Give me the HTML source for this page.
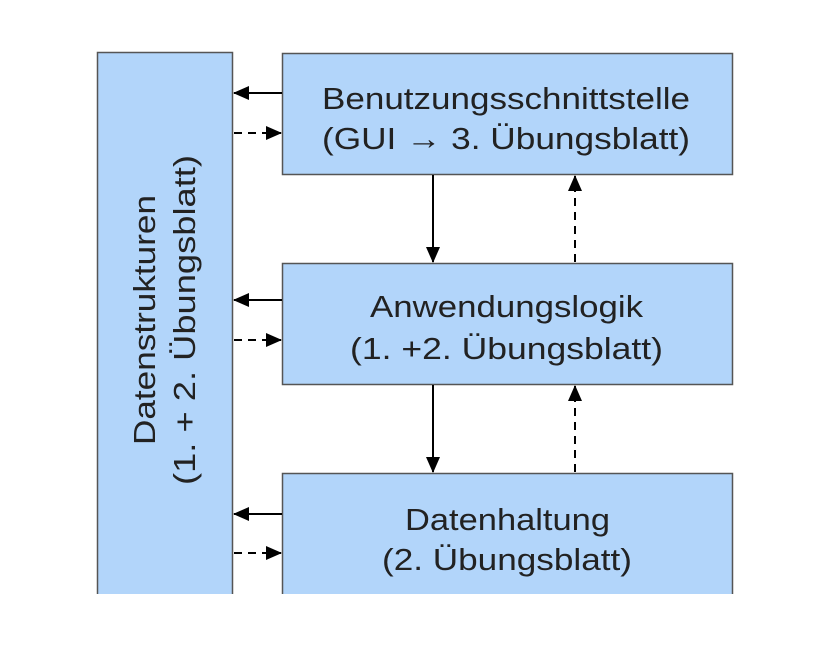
<!DOCTYPE html>
<html><head><style>
body{margin:0;background:#fff;width:822px;height:654px;overflow:hidden}
</style></head><body>
<svg width="822" height="654" xmlns="http://www.w3.org/2000/svg" font-family="Liberation Sans, sans-serif" font-size="31" fill="#222">
<defs>
<marker id="b" markerWidth="16" markerHeight="14" refX="15" refY="7" orient="auto" markerUnits="userSpaceOnUse"><path d="M0,0 L16,7 L0,14 z" fill="#000"/></marker>
</defs>
<g fill="#b2d5fa" stroke="#555" stroke-width="1.5">
<path d="M97.5,594 V52.5 H232.5 V594"/>
<path d="M282.5,594 V473.5 H732.5 V594"/>
<rect x="282.5" y="53.5" width="450" height="121"/>
<rect x="282.5" y="263.5" width="450" height="121"/>
</g>
<g stroke="#000" stroke-width="2" fill="none">
<line x1="282" y1="93" x2="234" y2="93" marker-end="url(#b)"/>
<line x1="282" y1="300" x2="234" y2="300" marker-end="url(#b)"/>
<line x1="282" y1="514" x2="234" y2="514" marker-end="url(#b)"/>
<line x1="234" y1="133" x2="281" y2="133" stroke-dasharray="8,6" marker-end="url(#b)"/>
<line x1="234" y1="340" x2="281" y2="340" stroke-dasharray="8,6" marker-end="url(#b)"/>
<line x1="234" y1="553" x2="281" y2="553" stroke-dasharray="8,6" marker-end="url(#b)"/>
<line x1="433" y1="175" x2="433" y2="262" marker-end="url(#b)"/>
<line x1="433" y1="385" x2="433" y2="472" marker-end="url(#b)"/>
<line x1="575" y1="262" x2="575" y2="176" stroke-dasharray="8,6" marker-end="url(#b)"/>
<line x1="575" y1="472" x2="575" y2="386" stroke-dasharray="8,6" marker-end="url(#b)"/>
</g>
<g>
<text x="322" y="109" textLength="368" lengthAdjust="spacingAndGlyphs">Benutzungsschnittstelle</text>
<text x="322" y="149" textLength="368" lengthAdjust="spacingAndGlyphs">(GUI → 3. Übungsblatt)</text>
<text x="370" y="317" textLength="273" lengthAdjust="spacingAndGlyphs">Anwendungslogik</text>
<text x="350" y="359" textLength="313" lengthAdjust="spacingAndGlyphs">(1. +2. Übungsblatt)</text>
<text x="405" y="530" textLength="205" lengthAdjust="spacingAndGlyphs">Datenhaltung</text>
<text x="382" y="570" textLength="250" lengthAdjust="spacingAndGlyphs">(2. Übungsblatt)</text>
<g transform="translate(165,320) rotate(-90)">
<text x="-125" y="-10" textLength="250" lengthAdjust="spacingAndGlyphs">Datenstrukturen</text>
<text x="-165" y="30" textLength="330" lengthAdjust="spacingAndGlyphs">(1. + 2. Übungsblatt)</text>
</g>
</g>
</svg>
</body></html>
